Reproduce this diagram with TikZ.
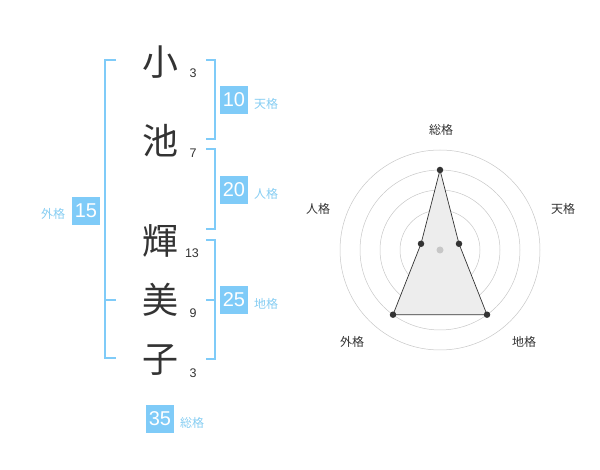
\documentclass[tikz,border=0pt]{standalone}
\usepackage{fontspec}
\setmainfont{Liberation Sans}
\newfontfamily\jp{Noto Sans CJK JP}
\definecolor{bl}{HTML}{7FCBF8}
\definecolor{bltxt}{HTML}{86CDF2}
\definecolor{dk}{HTML}{333333}
\begin{document}
\begin{tikzpicture}[x=1pt,y=-1pt,
  kanji/.style={inner sep=0pt,font=\jp\fontsize{36}{36}\selectfont,text=dk},
  strk/.style={inner sep=0pt,font=\fontsize{12.5}{13}\selectfont,text=dk},
  box/.style={fill=bl,minimum width=28pt,minimum height=28pt,inner sep=0pt,text=white,font=\fontsize{20}{20}\selectfont},
  lbl/.style={inner sep=0pt,font=\jp\fontsize{12}{12}\selectfont,text=bltxt},
  rlbl/.style={inner sep=0pt,font=\jp\fontsize{12}{12}\selectfont,text=dk},
  brk/.style={draw=bl,line width=1.6pt},
  ring/.style={draw=black!22,line width=0.5pt},
  dot/.style={circle,fill=dk,inner sep=0pt,minimum size=6.5pt}]
\useasboundingbox (0,0) rectangle (600,470);
% kanji
\node[kanji] (k1) at (160,62) {小};
\node[kanji] (k2) at (160,141) {池};
\node[kanji] (k3) at (160,241) {輝};
\node[kanji] (k4) at (160,300) {美};
\node[kanji] (k5) at (160,360) {子};
\node[strk] (s1) at (193,73) {3};
\node[strk] (s2) at (193,153) {7};
\node[strk] (s3) at (192,253) {13};
\node[strk] (s4) at (193,313) {9};
\node[strk] (s5) at (193,373) {3};
% brackets
\draw[brk] (116,60) -- (105,60) -- (105,358) -- (116,358);
\draw[brk] (105,300) -- (116,300);
\draw[brk] (206,60) -- (215,60) -- (215,139) -- (206,139);
\draw[brk] (206,149) -- (215,149) -- (215,229) -- (206,229);
\draw[brk] (206,240) -- (215,240) -- (215,359) -- (206,359);
\draw[brk] (206,300) -- (215,300);
% boxes
\node[box] (b1) at (234,100) {10};
\node[lbl] (l1) at (266,104) {天格};
\node[box] (b2) at (234,190) {20};
\node[lbl] (l2) at (266,194) {人格};
\node[box] (b3) at (234,300) {25};
\node[lbl] (l3) at (266,304) {地格};
\node[box] (b4) at (86,211) {15};
\node[lbl] (l4) at (53,214) {外格};
\node[box] (b5) at (160,419) {35};
\node[lbl] (l5) at (192,423) {総格};
% radar
\coordinate (c) at (440,250);
\foreach \r in {20,40,60,80,100} \draw[ring] (c) circle[radius=\r];
\coordinate (pT) at (440,170);
\coordinate (pH) at (459,243.8);
\coordinate (pE) at (487,314.7);
\coordinate (pG) at (393,314.7);
\coordinate (pJ) at (421,243.8);
\draw[fill=black!7,draw=dk,line width=0.7pt] (pT) -- (pH) -- (pE) -- (pG) -- (pJ) -- cycle;
\fill[black!22] (c) circle[radius=3.5];
\foreach \p in {pT,pH,pE,pG,pJ} \node[dot] at (\p) {};
\node[rlbl] (r1) at (441,130) {総格};
\node[rlbl] (r2) at (563,209) {天格};
\node[rlbl] (r3) at (524,342) {地格};
\node[rlbl] (r4) at (352,342) {外格};
\node[rlbl] (r5) at (318,209) {人格};
\end{tikzpicture}
\end{document}
